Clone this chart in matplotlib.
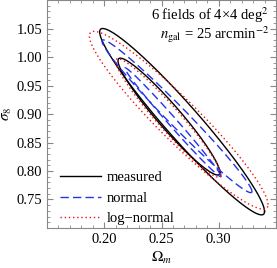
import numpy as np
import matplotlib
matplotlib.use("Agg")
import matplotlib.pyplot as plt
from matplotlib.ticker import MultipleLocator

plt.rcParams['font.family'] = ['Liberation Serif', 'DejaVu Serif']
plt.rcParams['mathtext.fontset'] = 'stix'

# contour ellipses: (Omega_m centre, half range, sigma_8 centre, half range, correlation)
measured = [(0.268, 0.072, 0.8865, 0.1635, -0.963),
            (0.2565, 0.0445, 0.8955, 0.1025, -0.954)]
normal = [(0.2635, 0.0655, 0.896, 0.134, -0.984),
          (0.260, 0.042, 0.8855, 0.0955, -0.993)]
lognormal = [(0.265, 0.078, 0.889, 0.156, -0.947),
             (0.256, 0.046, 0.893, 0.104, -0.958)]

labels = ['measured', 'normal', 'log\u2212normal']

t = np.linspace(0, 2 * np.pi, 400)

def ellipse(cx, ax_, cy, ay, rho):
    x = cx + ax_ * np.cos(t)
    y = cy + ay * (rho * np.cos(t) + np.sqrt(1 - rho**2) * np.sin(t))
    return x, y

fig = plt.figure(figsize=(2.77, 2.68), dpi=100)
ax = fig.add_axes([47/277, 40/268, 229/277, 228/268])

styles = [dict(color='black', lw=1.0, ls='-'),
          dict(color='#2233ee', lw=1.0, ls=(0, (6, 3))),
          dict(color='#ee1111', lw=1.0, ls=(0, (1, 2)))]

for sets, st, lab in zip([measured, normal, lognormal], styles, labels):
    for i, p in enumerate(sets):
        x, y = ellipse(*p)
        ax.plot(x, y, label=lab if i == 0 else None, **st)

ax.set_xlim(0.15, 0.35)
ax.set_ylim(0.70, 1.10)
ax.set_xticks([0.20, 0.25, 0.30])
ax.set_yticks([0.75, 0.80, 0.85, 0.90, 0.95, 1.00, 1.05])
ax.xaxis.set_minor_locator(MultipleLocator(0.01))
ax.yaxis.set_minor_locator(MultipleLocator(0.01))
ax.set_xticklabels(['0.20', '0.25', '0.30'])
ax.set_yticklabels(['0.75', '0.80', '0.85', '0.90', '0.95', '1.00', '1.05'])
ax.tick_params(which='both', direction='in', top=True, right=True, color='#888888', labelsize=10.5)
ax.tick_params(which='major', length=4)
ax.tick_params(which='minor', length=2)
for s in ax.spines.values():
    s.set_color('#888888')

ax.set_xlabel(r'$\Omega_m$', fontsize=11, labelpad=3)
ax.set_ylabel(r'$\sigma_8$', fontsize=11, labelpad=2)

ax.text(0.97, 0.975, '6 fields of 4\u00d74 deg$^2$', transform=ax.transAxes,
        ha='right', va='top', fontsize=10.5)
ax.text(0.97, 0.895, r'$n_{\rm gal}$ = 25 arcmin$^{-2}$', transform=ax.transAxes,
        ha='right', va='top', fontsize=10.5)

ax.legend(loc='lower left', frameon=False, fontsize=10.5, handlelength=2.8,
          handletextpad=0.4, labelspacing=0.5, borderaxespad=0.0,
          bbox_to_anchor=(0.03, -0.013))

fig.savefig('out.png', dpi=100)
